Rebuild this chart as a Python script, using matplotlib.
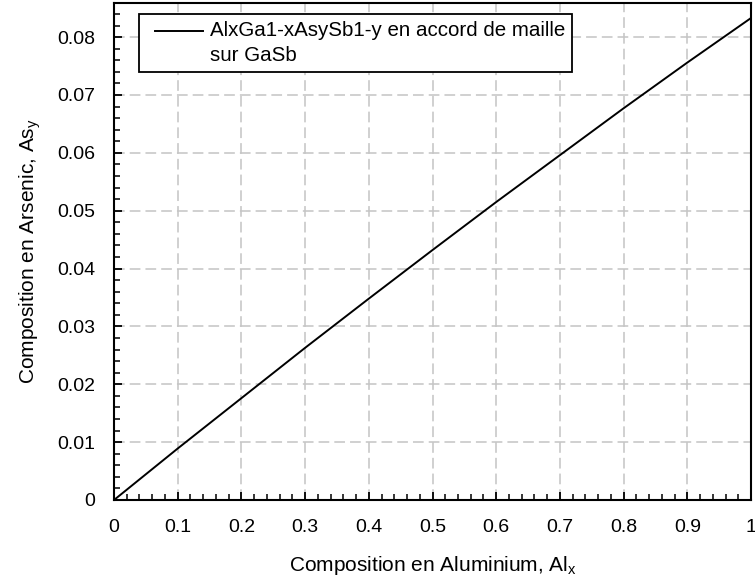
import matplotlib
matplotlib.use('Agg')
import matplotlib.pyplot as plt
from matplotlib.ticker import MultipleLocator
from matplotlib.legend_handler import HandlerLine2D

plt.rcParams['font.family'] = ['Liberation Sans', 'DejaVu Sans']

al_x = [0, 0.1, 0.2, 0.3, 0.4, 0.5, 0.6, 0.7, 0.8, 0.9, 1.0]
as_y = [0, 0.0089, 0.0176, 0.0263, 0.0348, 0.0432, 0.0515, 0.0596, 0.0677, 0.0756, 0.0833]
legend_label = 'AlxGa1-xAsySb1-y en accord de maille\nsur GaSb'
x_ticks = [0, 0.1, 0.2, 0.3, 0.4, 0.5, 0.6, 0.7, 0.8, 0.9, 1.0]
x_ticklabels = ['0', '0.1', '0.2', '0.3', '0.4', '0.5', '0.6', '0.7', '0.8', '0.9', '1']
y_ticks = [0, 0.01, 0.02, 0.03, 0.04, 0.05, 0.06, 0.07, 0.08]
y_ticklabels = ['0', '0.01', '0.02', '0.03', '0.04', '0.05', '0.06', '0.07', '0.08']


class TopLineHandler(HandlerLine2D):
    # put the legend line level with the first text line, not the middle
    def create_artists(self, legend, orig_handle, xdescent, ydescent, width, height, fontsize, trans):
        artists = super().create_artists(legend, orig_handle, xdescent, ydescent,
                                         width, height, fontsize, trans)
        for a in artists:
            a.set_ydata([v + 0.6 * fontsize for v in a.get_ydata()])
        return artists


fig = plt.figure(figsize=(7.55, 5.85), dpi=100)
ax = fig.add_axes([0.151, 0.1453, 0.8437, 0.8496])

line, = ax.plot(al_x, as_y, color='black', lw=1.4, label=legend_label)

ax.set_xlim(0, 1)
ax.set_ylim(0, 0.0859)
ax.set_xticks(x_ticks)
ax.set_xticklabels(x_ticklabels)
ax.set_yticks(y_ticks)
ax.set_yticklabels(y_ticklabels)
ax.xaxis.set_minor_locator(MultipleLocator(0.02))
ax.yaxis.set_minor_locator(MultipleLocator(0.002))

ax.tick_params(which='both', direction='in', labelsize=14, color='black')
ax.tick_params(which='major', length=6, width=1.3, pad=13.5)
ax.tick_params(which='minor', length=4, width=1.1)

ax.grid(True, which='major', color='#c4c4c4', linestyle=(0, (7, 3.3)), linewidth=1.1)
for s in ax.spines.values():
    s.set_linewidth(1.5)
    s.set_color('black')

ax.set_xlabel('Composition en Aluminium, Al$_\\mathregular{x}$', fontsize=15, labelpad=13)
ax.set_ylabel('Composition en Arsenic, As$_\\mathregular{y}$', fontsize=15, labelpad=10)

leg = ax.legend(loc='upper left', bbox_to_anchor=(0.0397, 0.978), fontsize=14.8,
                frameon=True, fancybox=False, framealpha=1, edgecolor='black',
                handlelength=2.75, borderpad=0.35, borderaxespad=0, labelspacing=0.1,
                handletextpad=0.34, handler_map={line: TopLineHandler(xpad=0.43)})
leg.get_frame().set_linewidth(1.3)
for t in leg.get_texts():
    t.set_linespacing(1.4)

fig.savefig('out.png', dpi=100)
